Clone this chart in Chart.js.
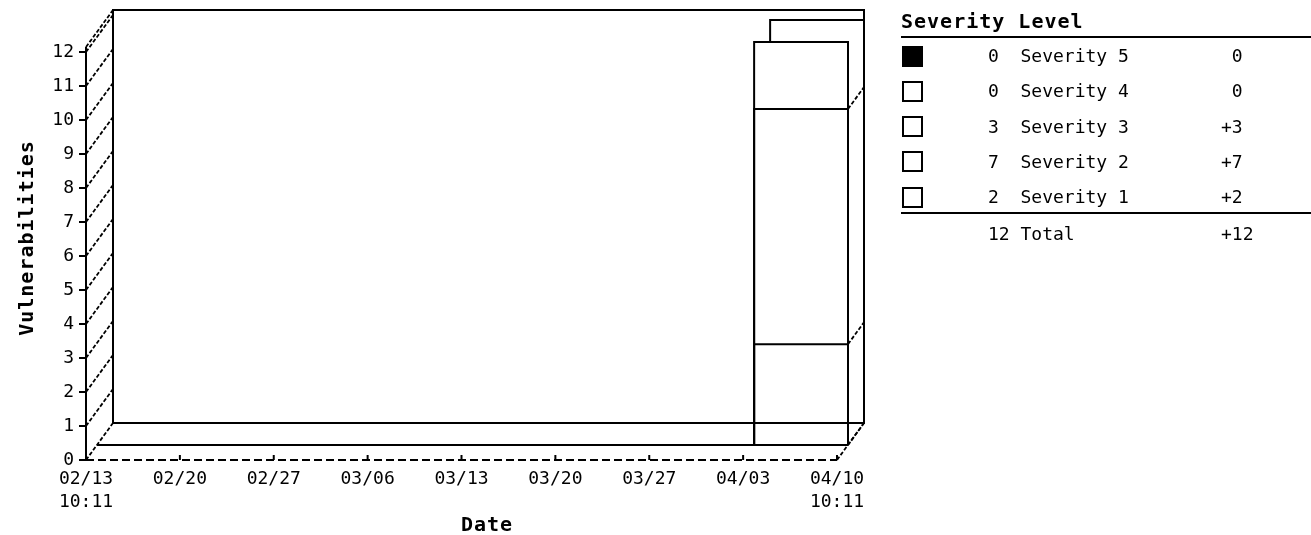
<!DOCTYPE html>
<html>
<head>
<meta charset="utf-8">
<script src="https://cdn.jsdelivr.net/npm/chart.js@4.4.1/dist/chart.umd.min.js"></script>
<style>
  body { margin: 0; background: #fff; }
  #wrap { position: relative; width: 1311px; height: 535px; font-family: 'DejaVu Sans Mono', monospace; color: #000; }
  #chart { position: absolute; left: 0; top: 0; }
  .txt { position: absolute; white-space: pre; font-size: 18px; line-height: 20px; }
  .ttl { position: absolute; white-space: pre; font-size: 20px; font-weight: bold; line-height: 24px; letter-spacing: 1px; }
  .rule { position: absolute; left: 901px; width: 410px; height: 2px; background: #000; }
  .box { position: absolute; left: 902px; width: 17px; height: 17px; border: 2px solid #000; }
</style>
</head>
<body>
<div id="wrap">
  <canvas id="chart" width="1311" height="535"></canvas>
  <div id="legend"></div>
</div>
<script>
// days after 02/13 10:11
const xTickDays = [0, 7, 14, 21, 28, 35, 42, 49, 56];
const xTickLabels = ['02/13\n10:11', '02/20', '02/27', '03/06', '03/13', '03/20', '03/27', '04/03', '04/10\n10:11'];

// step points of the stacked series (value holds until the next point)
const pointDays = [0, 49, 56];
const severity5 = [0, 0, 0];
const severity4 = [0, 0, 0];
const severity3 = [0, 3, 0];
const severity2 = [0, 7, 0];
const severity1 = [0, 2, 0];

// legend table
const severityNames = ['Severity 5', 'Severity 4', 'Severity 3', 'Severity 2', 'Severity 1'];
const severityCounts = [0, 0, 3, 7, 2];
const severityChanges = [0, 0, 3, 7, 2];
const swatchColors = ['#000', '#fff', '#fff', '#fff', '#fff'];
const totalCount = 12;
const totalChange = 12;

// pseudo 3d
const DEPTH = { x: 27, y: -37 };
const FRONT = { x: 11, y: -15 };
const FRONT_SCALE = 0.988;

const series = [severity5, severity4, severity3, severity2, severity1];

function line(ctx, x1, y1, x2, y2) {
    ctx.beginPath();
    ctx.moveTo(x1, y1);
    ctx.lineTo(x2, y2);
    ctx.stroke();
}

const depthPlugin = {
    id: 'depth',
    beforeDatasetsDraw(chart) {
        const { ctx, chartArea: a, scales: { x, y } } = chart;
        const y0 = y.getPixelForValue(0);
        const wallTop = a.top - 5;
        ctx.save();
        ctx.strokeStyle = '#000';
        ctx.lineWidth = 2;
        ctx.strokeRect(a.left + DEPTH.x, wallTop + DEPTH.y, a.right - a.left, y0 - wallTop);
        line(ctx, a.left, a.top, a.left, wallTop);
        x.ticks.forEach(t => {
            const px = x.getPixelForValue(t.value);
            line(ctx, px, y0, px, y0 - 5);
        });
        // dashed x axis
        ctx.setLineDash([8, 4]);
        line(ctx, a.left, y0, a.right, y0);
        ctx.lineWidth = 1.8;
        ctx.setLineDash([4, 2]);
        const diag = (px, py) => line(ctx, px, py, px + DEPTH.x, py + DEPTH.y);
        y.ticks.forEach(t => diag(a.left, y.getPixelForValue(t.value)));
        diag(a.left, wallTop);
        diag(a.right, y0);
        ctx.restore();

        // data sits on a plane slightly behind the axes
        ctx.save();
        ctx.translate(FRONT.x, FRONT.y + y0 * (1 - FRONT_SCALE));
        ctx.scale(1, FRONT_SCALE);
    },
    afterDatasetsDraw(chart) {
        const { ctx, scales: { x, y } } = chart;
        ctx.restore();
        const y0 = y.getPixelForValue(0);
        const front = (px, py) => [px + FRONT.x, y0 + FRONT.y + (py - y0) * FRONT_SCALE];
        const bx = DEPTH.x - FRONT.x, by = DEPTH.y - FRONT.y;

        ctx.save();
        ctx.strokeStyle = '#000';
        for (let i = 0; i < pointDays.length - 1; i++) {
            let cum = 0;
            const edges = [0];
            series.forEach(s => { cum += s[i]; if (cum !== edges[edges.length - 1]) edges.push(cum); });
            if (cum === 0) continue;
            const [xl, yt] = front(x.getPixelForValue(pointDays[i]), y.getPixelForValue(cum));
            const [xr] = front(x.getPixelForValue(pointDays[i + 1]), 0);
            const [, yb] = front(0, y0);
            ctx.lineWidth = 2;
            ctx.setLineDash([]);
            ctx.beginPath();
            ctx.moveTo(xl + bx, yt);
            ctx.lineTo(xl + bx, yt + by);
            ctx.lineTo(xr + bx, yt + by);
            ctx.lineTo(xr + bx, yb + by);
            ctx.stroke();
            ctx.lineWidth = 1.8;
            ctx.setLineDash([4, 2]);
            edges.slice(0, -1).forEach(v => {
                const [, ey] = front(0, y.getPixelForValue(v));
                line(ctx, xr, ey, xr + bx, ey + by);
            });
        }
        ctx.restore();
    },
    afterDraw(chart) {
        const { ctx } = chart;
        ctx.save();
        ctx.fillStyle = '#000';
        ctx.font = 'bold 20px "DejaVu Sans Mono"';
        ctx.letterSpacing = '1px';
        ctx.textAlign = 'center';
        ctx.textBaseline = 'alphabetic';
        ctx.fillText('Date', 487, 531);
        ctx.translate(33, 238);
        ctx.rotate(-Math.PI / 2);
        ctx.fillText('Vulnerabilities', 0, 0);
        ctx.restore();
    }
};

const monoFont = { family: 'DejaVu Sans Mono', size: 18, lineHeight: 1.28 };

new Chart(document.getElementById('chart'), {
    type: 'line',
    data: {
        datasets: series.map((s, i) => ({
            label: severityNames[i],
            data: pointDays.map((d, j) => ({ x: d, y: s[j] })),
            borderColor: '#000',
            borderWidth: 2,
            pointRadius: 0,
            fill: false,
            stepped: 'before',
            clip: false
        }))
    },
    options: {
        responsive: false,
        devicePixelRatio: 1,
        animation: false,
        layout: { padding: { top: 52, right: 474, bottom: 0, left: 0 } },
        plugins: { legend: { display: false }, tooltip: { enabled: false } },
        scales: {
            x: {
                type: 'linear',
                min: xTickDays[0],
                max: xTickDays[xTickDays.length - 1],
                afterBuildTicks: scale => { scale.ticks = xTickDays.map(v => ({ value: v })); },
                afterFit: scale => { scale.height = 75; },
                grid: { display: false, drawTicks: false },
                border: { display: false },
                ticks: {
                    autoSkip: false,
                    maxRotation: 0,
                    minRotation: 0,
                    padding: 8,
                    color: '#000',
                    font: monoFont,
                    callback: (v, i) => xTickLabels[i].split('\n')
                }
            },
            y: {
                stacked: true,
                min: 0,
                max: 12,
                afterFit: scale => { scale.width = 86; },
                grid: { display: true, drawOnChartArea: false, drawTicks: true, tickLength: 7, color: '#000', lineWidth: 2 },
                border: { display: true, color: '#000', width: 2 },
                ticks: { stepSize: 1, padding: 5, color: '#000', font: monoFont }
            }
        }
    },
    plugins: [depthPlugin]
});

// legend table
const legend = document.getElementById('legend');
let html = '<div class="ttl" style="left:901px;top:9px">Severity Level</div>';
html += '<div class="rule" style="top:36px"></div>';
const sign = v => (v > 0 ? '+' + v : ' ' + v);
severityNames.forEach((name, i) => {
    const cy = 56 + i * 35.3;
    html += `<div class="box" style="top:${cy - 10.5}px;background:${swatchColors[i]}"></div>`;
    html += `<div class="txt" style="left:988px;top:${cy - 10}px">${String(severityCounts[i]).padEnd(3)}${name}</div>`;
    html += `<div class="txt" style="left:1221px;top:${cy - 10}px">${sign(severityChanges[i])}</div>`;
});
html += '<div class="rule" style="top:212px"></div>';
html += `<div class="txt" style="left:988px;top:224px">${String(totalCount).padEnd(3)}Total</div>`;
html += `<div class="txt" style="left:1221px;top:224px">${sign(totalChange)}</div>`;
legend.innerHTML = html;
</script>
</body>
</html>
